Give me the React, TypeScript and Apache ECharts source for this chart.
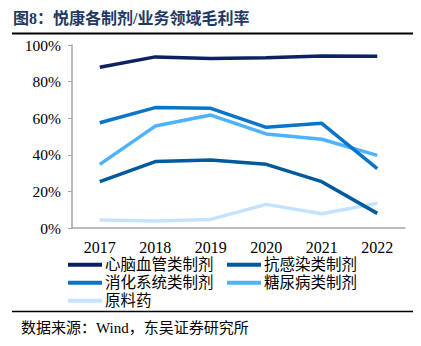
import React, { useEffect, useRef } from "react";
import * as echarts from "echarts";

const years = ["2017", "2018", "2019", "2020", "2021", "2022"];
const seriesNames = ["心脑血管类制剂", "抗感染类制剂", "消化系统类制剂", "糖尿病类制剂", "原料药"];
const cardio = [87.8, 93.5, 92.6, 93.0, 94.0, 93.8];
const antiInfect = [25.3, 36.3, 37.2, 34.8, 25.3, 8.0];
const digestive = [57.5, 65.8, 65.4, 55.0, 57.2, 32.4];
const diabetes = [34.8, 55.7, 61.7, 51.4, 48.5, 39.7];
const api = [4.4, 3.8, 4.7, 12.9, 7.8, 13.5];
const yTicks = [0, 20, 40, 60, 80, 100];
const colors = ["#0B2160", "#005A9C", "#0A74C8", "#4DB2FF", "#C5E3FF"];

export default function App() {
  const ref = useRef<HTMLDivElement>(null);
  useEffect(() => {
    const chart = echarts.init(ref.current!, null, { renderer: "svg" });
    const values = [cardio, antiInfect, digestive, diabetes, api];
    const serif = "'Liberation Serif', 'Noto Sans CJK SC', serif";
    const cjk = "'Liberation Serif', 'Noto Sans CJK SC', sans-serif";
    chart.setOption({
      animation: false,
      backgroundColor: "#ffffff",
      color: colors,
      graphic: [
        {
          type: "text",
          left: 13,
          top: 10,
          style: {
            text: "图8：悦康各制剂/业务领域毛利率",
            fill: "#1F3864",
            font: "bold 16px " + cjk,
          },
        },
        {
          type: "line",
          shape: { x1: 12, y1: 33.5, x2: 413, y2: 33.5 },
          style: { stroke: "#000", lineWidth: 2 },
        },
        {
          type: "line",
          shape: { x1: 12, y1: 311.5, x2: 413, y2: 311.5 },
          style: { stroke: "#000", lineWidth: 1.5 },
        },
        {
          type: "text",
          left: 21,
          top: 320,
          style: {
            text: "数据来源：Wind，东吴证券研究所",
            fill: "#000",
            font: "15px " + cjk,
          },
        },
      ],
      grid: { left: 72, right: 16, top: 45, bottom: 118, containLabel: false },
      xAxis: {
        type: "category",
        data: years,
        boundaryGap: true,
        axisLine: { lineStyle: { color: "#A6A6A6", width: 1.5 } },
        axisTick: { show: false },
        axisLabel: { color: "#000", fontSize: 16, fontFamily: serif, margin: 11 },
      },
      yAxis: {
        type: "value",
        min: 0,
        max: 100,
        interval: 20,
        axisLine: { show: true, lineStyle: { color: "#A6A6A6", width: 1.5 } },
        axisTick: { show: true, length: 4, lineStyle: { color: "#A6A6A6" } },
        splitLine: { show: false },
        axisLabel: {
          color: "#000",
          fontSize: 15.5,
          fontFamily: serif,
          margin: 11,
          formatter: (v: number) => (yTicks.includes(v) ? v + "%" : ""),
        },
      },
      legend: [
        {
          orient: "vertical",
          left: 68,
          top: 257,
          padding: 0,
          itemGap: 2.5,
          itemWidth: 34,
          itemHeight: 4,
          icon: "rect",
          data: [seriesNames[0], seriesNames[2], seriesNames[4]],
          textStyle: { fontSize: 15.5, lineHeight: 15, fontFamily: cjk, color: "#000", padding: [0, 0, 0, -2] },
        },
        {
          orient: "vertical",
          left: 227,
          top: 257,
          padding: 0,
          itemGap: 2.5,
          itemWidth: 34,
          itemHeight: 4,
          icon: "rect",
          data: [seriesNames[1], seriesNames[3]],
          textStyle: { fontSize: 15.5, lineHeight: 15, fontFamily: cjk, color: "#000", padding: [0, 0, 0, -2] },
        },
      ],
      series: seriesNames.map((name, i) => ({
        name,
        type: "line",
        data: values[i],
        symbol: "none",
        lineStyle: { width: 3.5, color: colors[i] },
        itemStyle: { color: colors[i] },
        z: 10 - i,
      })),
    });
    return () => chart.dispose();
  }, []);
  return (
    <div
      ref={ref}
      style={{ position: "fixed", left: 0, top: 0, width: 421, height: 346 }}
    />
  );
}
